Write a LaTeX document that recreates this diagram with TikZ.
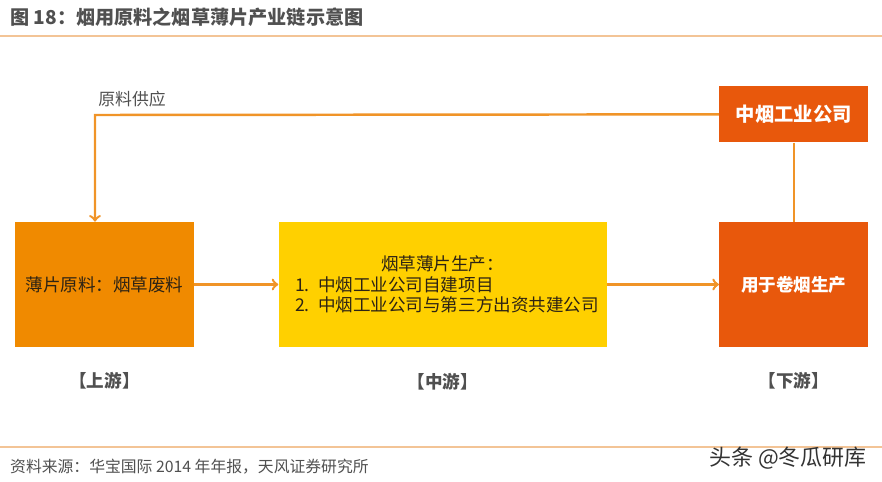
\documentclass[tikz,border=0pt]{standalone}
\usepackage{fontspec}
\setmainfont{Noto Sans CJK SC}
\usetikzlibrary{positioning, arrows}
\definecolor{ylorange}{RGB}{240,138,0}
\definecolor{ylyellow}{RGB}{255,208,0}
\definecolor{ylred}{RGB}{232,88,12}
\definecolor{lineorange}{RGB}{240,148,40}
\definecolor{rulecolor}{RGB}{243,196,150}
\definecolor{txtgray}{RGB}{80,80,80}
\definecolor{txtdark}{RGB}{45,35,20}
\tikzset{
	chainnode/.style = {rectangle, inner sep=2pt, text centered, font=\fontsize{10}{11.5}\selectfont},
	upbox/.style = {chainnode, fill=ylorange, text=txtdark, minimum width=3.58cm, minimum height=2.5cm},
	midbox/.style = {chainnode, fill=ylyellow, text=txtdark, minimum width=6.56cm, minimum height=2.52cm},
	downbox/.style = {chainnode, fill=ylred, text=white, minimum width=2.98cm, minimum height=2.5cm, font=\bfseries\fontsize{10}{12}\selectfont},
	stage/.style = {text=txtgray, font=\bfseries\fontsize{10}{12}\selectfont},
	line/.style = {draw=lineorange, line width=1.4pt, -to}
}

\begin{document}
\begin{tikzpicture}[x=0.02cm, y=-0.02cm]
		\useasboundingbox (0,0) rectangle (882,481);
		%标题
		\node (title) [anchor=west, text=txtgray, font=\bfseries\fontsize{10.9}{12}\selectfont] at (4,17) {图 18：烟用原料之烟草薄片产业链示意图};
		\draw [rulecolor, line width=1.2pt] (0,36) -- (882,36);

		%定义产业链方框
		\node (shangyou) [upbox] at (104.5,284.5) {薄片原料：烟草废料};
		\node (zhongyou) [midbox, right=1.68cm of shangyou, align=left, text width=5.9cm] {\makebox[5.9cm]{烟草薄片生产：}\\
			\makebox[13pt][l]{1.}中烟工业公司自建项目\\
			\makebox[13pt][l]{2.}中烟工业公司与第三方出资共建公司};
		\node (xiayou) [downbox, right=2.24cm of zhongyou] {用于卷烟生产};
		\node (zhongyan) [downbox, minimum height=1.12cm, font=\bfseries\fontsize{11}{12}\selectfont, above=1.58cm of xiayou] {中烟工业公司};
		\coordinate (supply) at (95,115);
		\node (gongying) [text=txtgray, font=\fontsize{9.6}{11}\selectfont] at (132,99) {原料供应};

		\node (up) [stage, below=0.38cm of shangyou] {【上游】};
		\node (mid) [stage, below=0.38cm of zhongyou] {【中游】};
		\node (down) [stage, below=0.38cm of xiayou] {【下游】};

		%连接方框
		\path [line] (zhongyan.west) -- (supply) -- (supply |- shangyou.north);
		\path [line] (shangyou) -- (zhongyou);
		\path [line] (zhongyou) -- (xiayou);
		\draw [lineorange, line width=1.4pt] (zhongyan) -- (xiayou);

		%资料来源
		\draw [rulecolor, line width=1.2pt] (0,447) -- (882,447);
		\node (source) [anchor=west, text=txtgray, font=\fontsize{9}{10}\selectfont] at (4,467) {资料来源：华宝国际 2014 年年报，天风证券研究所};
		\node (mark) [anchor=west, text=black!80, font=\fontsize{12.5}{14}\selectfont] at (703,458) {头条 @冬瓜研库};
\end{tikzpicture}
\end{document}
